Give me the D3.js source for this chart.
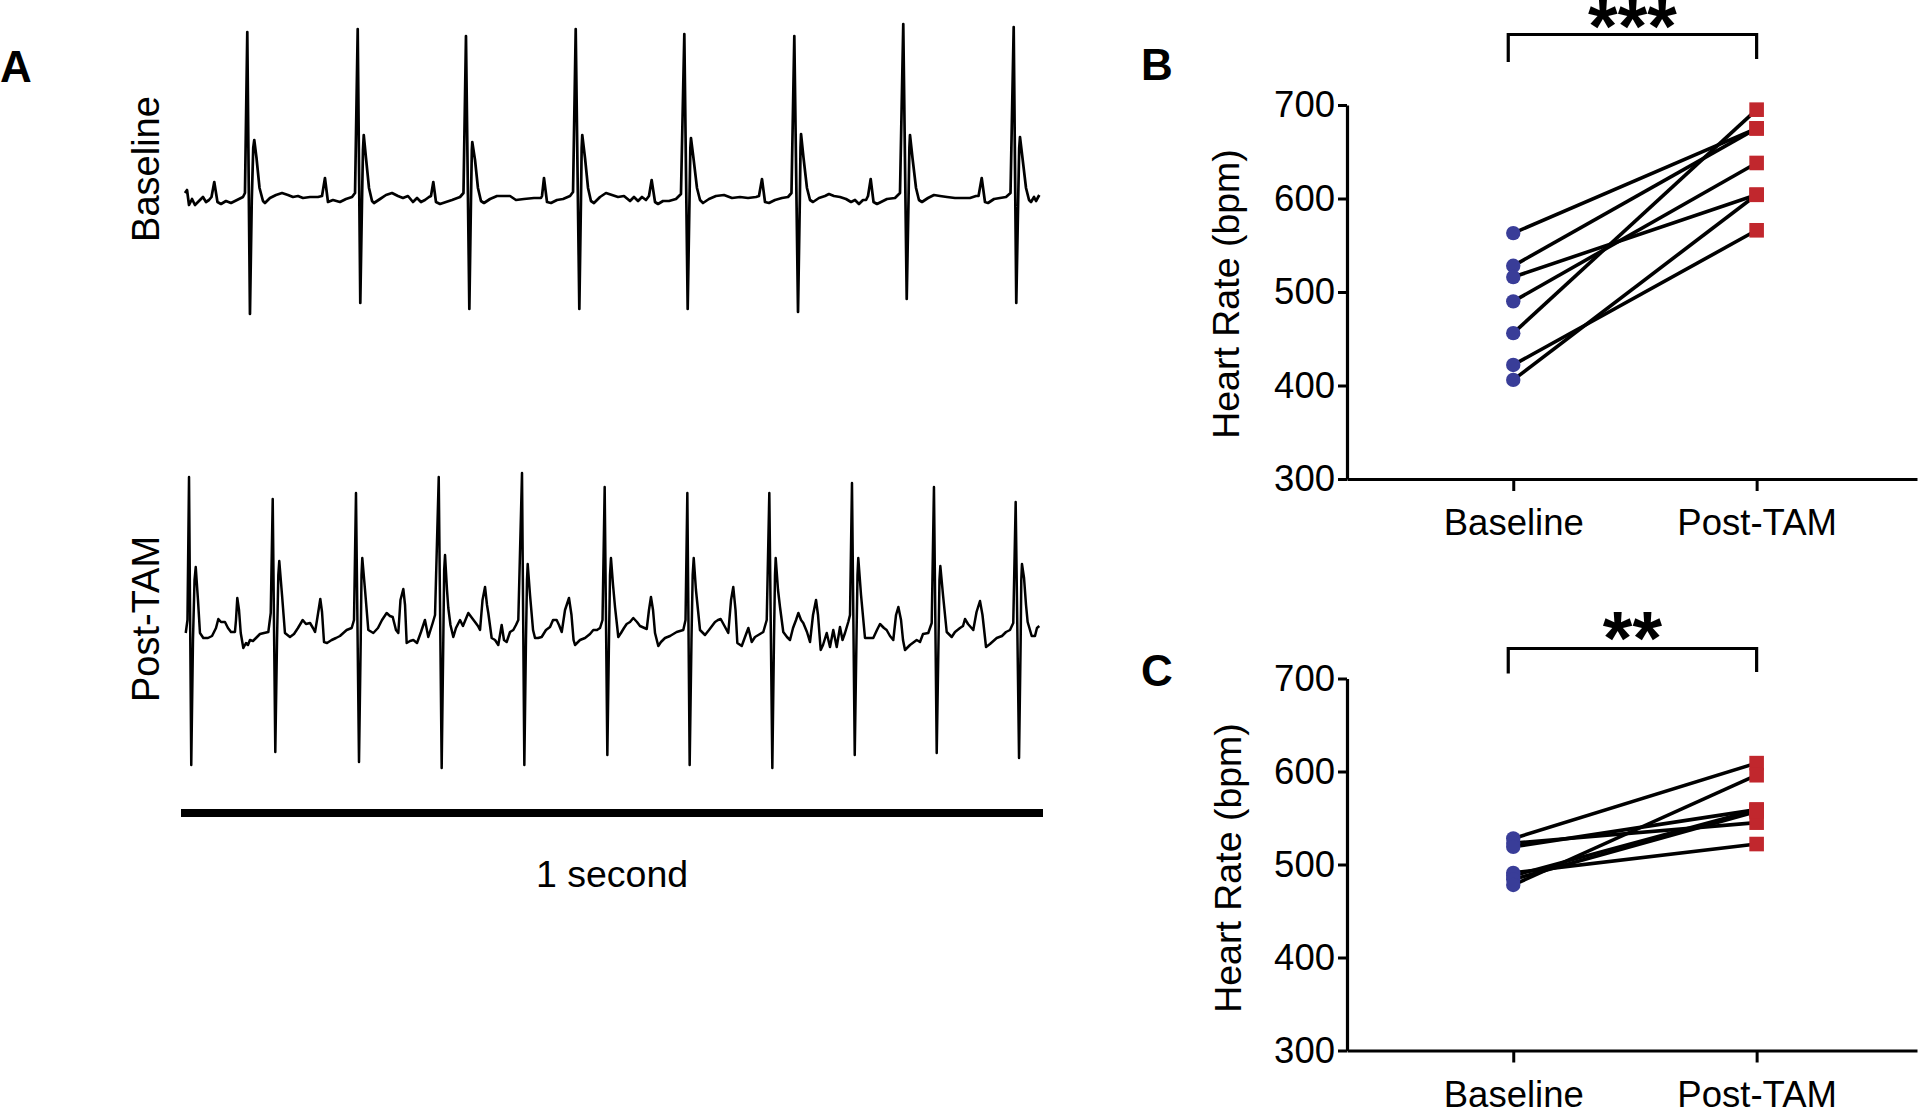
<!DOCTYPE html>
<html><head><meta charset="utf-8">
<script src="https://cdn.jsdelivr.net/npm/d3@7"></script>
<style>
body{margin:0;background:#fff;}
text{font-family:"Liberation Sans",Arial,Helvetica,sans-serif;fill:#000;}
</style>
</head><body>
<svg id="chart" width="1920" height="1111"></svg>
<script>
// ---------- DATA ----------
// ECG traces: [time (ms), voltage (mV)]
const baselineTrace = [[4.6,0.05],[7,0.08],[9.3,-0.07],[12.8,-0.01],[16.2,-0.07],[22,-0.02],[25.5,0.01],[29,-0.04],[32.5,-0.02],
[35.4,0.01],[38.6,0.16],[42.3,-0.04],[46.4,-0.06],[52.2,-0.03],[58,-0.05],[65,-0.02],[71.9,0.01],
[74.2,0.05],[76.9,1.66],[80,-1.16],[82.1,-0.02],[83.8,0.5],[85,0.58],[87.6,0.4],[91.1,0.1],[95.1,-0.03],[97.4,-0.05],
[103.2,0],[110.2,0.03],[117.2,0.05],[124.1,0.03],[129.9,0.01],[135.7,0.02],[141.5,0],[149.7,0.01],[158.9,0.01],
[163.6,0.02],[167,0.2],[170.5,-0.04],[176.3,-0.02],[184.4,-0.04],[191.4,-0.01],[198.4,0.01],
[201.9,0.05],[205,1.69],[208,-1.05],[210,-0.02],[211.1,0.48],[212,0.63],[214.6,0.4],[218.1,0.1],[221.6,-0.03],[223.9,-0.05],
[230.9,-0.01],[237.8,0.03],[244.8,0.05],[251.7,0.02],[257.5,0],[263.3,0.02],[269.1,-0.04],[273.8,0],[278.4,-0.04],[283,-0.02],[287.7,0.01],
[290,0.02],[292.7,0.16],[295.8,-0.04],[300.5,-0.06],[307.4,-0.04],[314.4,-0.02],[323.7,0.01],
[327.7,0.05],[330.6,1.62],[334.5,-1.11],[336.4,-0.02],[337.4,0.48],[337.9,0.56],[341.1,0.38],[344.5,0.1],[348,-0.03],[351.5,-0.05],
[358.5,-0.01],[366.6,0.02],[373.5,0.02],[381.7,0.02],[388.6,-0.02],[397.9,-0.01],[409.5,0],[417.6,0],
[418.8,0.02],[421.1,0.2],[424.6,-0.04],[429.2,-0.05],[436.2,-0.02],[443.2,-0.01],[451.3,0.02],
[454.8,0.06],[457.9,1.69],[462.1,-1.11],[464,-0.02],[464.8,0.5],[465.5,0.63],[468.7,0.4],[472.2,0.1],[475.6,-0.03],[479.1,-0.05],
[486.1,0.01],[493,0.05],[500,0.03],[507,0.01],[513.9,0.02],[520.9,-0.03],[525.5,0.01],[530.2,-0.03],[534.8,0.01],[539.4,-0.02],
[542.9,0.02],[546,0.18],[549.9,-0.04],[553.4,-0.06],[559.2,-0.03],[566.1,-0.03],[574.2,-0.01],
[580,0.04],[583.9,1.64],[587.8,-1.11],[589.9,-0.02],[590.9,0.5],[591.6,0.6],[594.5,0.4],[598.6,0.1],[602.1,-0.02],[605.6,-0.05],
[612.5,-0.01],[620.6,0.02],[629.9,0.03],[639.2,0],[648.5,0.01],[657.8,0],[667.1,0.01],
[670.5,0.02],[674,0.19],[677.5,-0.04],[682.1,-0.05],[689.1,-0.02],[697.2,0],[704.2,0.01],
[708.2,0.05],[711.5,1.62],[715.8,-1.14],[717.9,-0.02],[718.7,0.5],[719.3,0.64],[722.2,0.4],[726.2,0.1],[729.7,-0.02],[733.2,-0.04],
[740.1,0],[747.1,0.02],[751.7,0.04],[757.5,0.02],[764.5,0.01],[771.5,-0.01],[777.3,-0.04],[781.9,-0.02],[786.5,-0.06],[791.2,-0.02],[794.7,-0.02],
[797,0.02],[800.1,0.19],[803.4,-0.04],[807.4,-0.06],[812.1,-0.04],[819,-0.01],[828.3,0],
[834.1,0.05],[837.9,1.74],[841.9,-1.01],[844,-0.02],[845,0.5],[845.7,0.63],[848.6,0.4],[852.7,0.1],[856.1,-0.02],[859.6,-0.04],
[866.6,0],[873.5,0.03],[880.5,0.02],[888.6,0.01],[897.9,0],[907.2,0],[915.3,0],[922.3,0.02],
[925.2,0.02],[928.9,0.2],[932.7,-0.04],[936.2,-0.05],[943.2,-0.01],[950.1,0],[957.1,0.01],
[962.3,0.05],[966,1.71],[969,-1.05],[971.2,-0.02],[972.4,0.5],[973.3,0.61],[976.2,0.4],[980.3,0.1],[983.8,-0.02],[986.1,-0.04],
[989.6,0.01],[991.9,-0.03],[995.7,0.03]];

const postTamTrace = [[5.5,0.02],[7.5,0.15],[9.3,1.58],[11.9,-1.3],[13.9,-0.05],[15.7,0.55],[17.1,0.68],[19.7,0.35],[22,0.02],[25.9,-0.03],
[31.3,-0.03],[36,-0.01],[40.6,0.07],[43.3,0.16],[46.4,0.13],[51,0.13],[54.5,0.07],[58,0.03],[62.6,0.03],
[63.8,0.15],[65.3,0.37],[67.3,0.25],[69.3,0.02],[72.3,-0.13],[75.4,-0.08],[77.7,-0.1],[80,-0.05],[83.5,-0.06],[87,-0.03],[91.6,0.01],[96.3,0.02],[101.3,0.03],
[104.1,0.22],[106.4,1.36],[109.4,-1.17],[111.4,-0.05],[112.9,0.6],[114,0.74],[117.2,0.4],[120.6,0.02],[126.4,-0.02],
[131.1,0.01],[135.7,0.07],[141.2,0.15],[145,0.11],[149.7,0.12],[153.1,0.07],[155.5,0.03],
[157.8,0.15],[161.6,0.36],[163.6,0.23],[165.9,-0.07],[169.4,-0.08],[174.8,-0.05],[179.8,-0.03],[184.4,-0.01],[192.2,0.05],[198,0.07],
[200.7,0.15],[203,1.42],[206.5,-1.27],[208.5,-0.05],[209.4,0.6],[210.3,0.77],[213.5,0.45],[217.3,0.05],[223.1,0.02],
[228.5,0.07],[233.2,0.15],[238.6,0.22],[242.4,0.19],[245.6,0.18],[249.4,0.05],[252.1,0.02],
[254.6,0.35],[257.9,0.46],[259.9,0.3],[261.8,-0.08],[265.7,-0.06],[269.5,-0.05],[273.8,-0.08],[278.4,0.03],[283,0.15],[286.9,-0.02],[292,0.12],[294.7,0.2],
[299,1.58],[302.4,-1.33],[304.3,-0.05],[305.3,0.65],[306.3,0.8],[308.6,0.45],[310.1,0.27],[312.6,0.1],[315.9,-0.02],
[319,0.07],[323.7,0.15],[327.1,0.09],[333.3,0.22],[337.6,0.17],[341.1,0.13],[344.5,0.09],[346.9,0.05],
[349.8,0.35],[352.7,0.48],[355,0.3],[356.5,0.22],[360.4,-0.03],[364.3,-0.05],[368.1,-0.1],[372,0.1],[374.7,-0.05],[377.8,-0.07],[381.7,0.03],[385.5,0.05],[388.6,0.1],[391.3,0.15],
[395.6,1.62],[398.3,-1.3],[400.2,-0.05],[401.4,0.55],[402.2,0.71],[404.9,0.4],[408.4,0.05],[410.7,-0.03],
[414.2,-0.03],[418.4,-0.02],[423.4,0.05],[428.1,0.08],[431.6,0.15],[435.8,0.15],[438.5,0.1],[441.7,0.03],
[445.5,0.25],[450.1,0.37],[453,0.2],[455.4,-0.05],[457.1,-0.1],[462.9,-0.05],[468.7,-0.03],[474.5,0.01],[478.3,0.05],[482.6,0.05],[486.1,0.07],
[489,0.15],[491.5,1.48],[494.6,-1.2],[496.5,-0.05],[497.7,0.6],[498.8,0.77],[501.2,0.5],[503.5,0.28],[505.8,0.1],[507.3,-0.02],
[510.4,0.02],[513.9,0.07],[517,0.11],[520.9,0.13],[524.7,0.17],[529,0.13],[532.5,0.09],[540.3,0.06],
[542.9,0.25],[545.2,0.38],[547.6,0.25],[549.9,0.02],[553.7,-0.11],[556.8,-0.07],[561.5,-0.03],[567.3,-0.01],[575,0.03],[582.7,0.05],
[585.3,0.15],[587.4,1.42],[590.1,-1.3],[592.2,-0.05],[593.6,0.6],[594.8,0.77],[597.4,0.45],[602.1,0.05],[607.9,0],
[612.5,0.05],[619.5,0.13],[623,0.15],[626.1,0.16],[629.9,0.1],[634.9,0.02],
[638.1,0.35],[640.7,0.48],[643.3,0.25],[645.4,-0.08],[650.5,-0.11],[654.3,-0.02],[658.2,0.07],[662.1,-0.07],[665.9,-0.02],[671.7,0.01],[675.5,0.03],
[679.5,0.15],[682.5,1.42],[686,-1.33],[687.9,-0.05],[689.1,0.6],[689.9,0.77],[692.6,0.45],[694.9,0.28],[698.7,0.03],
[703,-0.02],[706.5,-0.05],[710,0.07],[713.5,0.15],[716.2,0.22],[719.3,0.15],[721.9,0.12],[726.2,0.03],[729.7,-0.07],
[733.2,0.2],[736.7,0.35],[739,0.2],[742.1,-0.15],[744.8,-0.1],[749.1,0.02],[752.9,-0.12],[756.7,0.05],[760.7,-0.12],[764.5,0.08],[767.4,-0.05],[770.3,0.02],[774.1,0.13],
[776.1,0.2],[778.4,1.52],[781.6,-1.2],[783.6,-0.05],[784.8,0.6],[785.7,0.77],[788.9,0.4],[793.5,-0.03],
[799.3,-0.03],[803.1,-0.03],[807.4,0.05],[810.9,0.11],[815.5,0.07],[818.6,0.05],[822.5,-0.01],[826.3,-0.05],
[829.5,0.2],[832.2,0.28],[835.3,0.15],[837.6,-0.05],[839.9,-0.15],[845.7,-0.1],[853.5,-0.05],[857.3,-0.07],[860.8,0.01],[866.9,0.02],
[870.9,0.12],[873.5,1.48],[876.7,-1.18],[878.8,-0.05],[879.9,0.55],[880.9,0.69],[884,0.4],[888.3,0.03],
[894.1,-0.02],[897.9,0.03],[903.7,0.07],[907.2,0.09],[909.5,0.16],[913,0.11],[919.1,0.05],
[922.9,0.23],[926.9,0.34],[929.8,0.2],[933.9,-0.12],[938.5,-0.09],[946.3,-0.03],[952.4,-0.01],[957.1,0.03],[961.7,0.05],
[965.5,0.12],[968.3,1.33],[972.2,-1.23],[974.1,-0.05],[974.8,0.55],[975.6,0.71],[978,0.57],[980.3,0.3],[982.2,0.13],[986.9,-0.01],
[990.7,-0.01],[993,0.07],[995.7,0.09]];

const scaleBarMs = [0, 1000];
const scaleBarLabel = "1 second";
const traceLabels = ["Baseline", "Post-TAM"];

// Paired heart-rate data (bpm)
const groups = ["Baseline", "Post-TAM"];
const hrTicks = [300, 400, 500, 600, 700];
const panelBBaseline = [563, 528, 516, 490, 456, 422, 406];
const panelBPost     = [675, 675, 604, 638, 695, 566, 604];
const panelCBaseline = [528, 523, 519, 491, 488, 484, 478];
const panelCPost     = [609, 545, 559, 522, 559, 557, 596];
const sigB = "***";
const sigC = "**";
const yTitle = "Heart Rate (bpm)";

// ---------- DRAW ----------
const svg = d3.select("#chart");
const BLUE = "#393d98", RED = "#c1272d";

// Panel A
svg.append("text").attr("x", 0).attr("y", 82).attr("font-size", 44).attr("font-weight", "bold").text("A");

const xT = d3.scaleLinear().domain([0, 1000]).range([181, 1043]);
const yBase = d3.scaleLinear().domain([-1.5, 2]).range([348, -2]);
const yPost = d3.scaleLinear().domain([-1.5, 2]).range([785, 435]);

const lineB = d3.line().x(d => xT(d[0])).y(d => yBase(d[1]));
const lineP = d3.line().x(d => xT(d[0])).y(d => yPost(d[1]));

svg.append("path").datum(baselineTrace).attr("d", lineB)
  .attr("fill", "none").attr("stroke", "#000").attr("stroke-width", 2.7).attr("stroke-linejoin", "round");
svg.append("path").datum(postTamTrace).attr("d", lineP)
  .attr("fill", "none").attr("stroke", "#000").attr("stroke-width", 2.5).attr("stroke-linejoin", "round");

svg.append("text").attr("transform", "translate(159,169) rotate(-90)")
  .attr("text-anchor", "middle").attr("font-size", 38).text(traceLabels[0]);
svg.append("text").attr("transform", "translate(159,619) rotate(-90)")
  .attr("text-anchor", "middle").attr("font-size", 38).text(traceLabels[1]);

svg.append("line").attr("x1", xT(scaleBarMs[0])).attr("x2", xT(scaleBarMs[1]))
  .attr("y1", 813).attr("y2", 813).attr("stroke", "#000").attr("stroke-width", 8);
svg.append("text").attr("x", xT((scaleBarMs[0] + scaleBarMs[1]) / 2)).attr("y", 887)
  .attr("text-anchor", "middle").attr("font-size", 37.5).text(scaleBarLabel);

// Paired panels
function pairedPanel(opt) {
  const g = svg.append("g");
  const y = d3.scaleLinear().domain([300, 700]).range([opt.y300, opt.y700]);
  const x = d3.scalePoint().domain(groups).range([1347, 1917]).padding(0.671).align(0.509);

  const yAxis = g.append("g").attr("transform", "translate(1347,0)")
    .call(d3.axisLeft(y).tickValues(hrTicks).tickSize(9).tickSizeOuter(0).tickPadding(3).tickFormat(d3.format("d")));
  const xAxis = g.append("g").attr("transform", `translate(0,${opt.y300})`)
    .call(d3.axisBottom(x).tickSize(12).tickSizeOuter(0).tickPadding(opt.xPad));
  [yAxis, xAxis].forEach(a => {
    a.attr("font-family", null).attr("font-size", null);
    a.select(".domain").attr("stroke", "#000").attr("stroke-width", 3.2);
    a.selectAll(".tick line").attr("stroke", "#000").attr("stroke-width", 3);
    a.selectAll(".tick text").attr("fill", "#000").attr("font-size", 36.5)
      .style("font-family", '"Liberation Sans", Arial, Helvetica, sans-serif');
  });

  // y title
  g.append("text").attr("transform", `translate(${opt.titleX},${opt.titleY}) rotate(-90)`)
    .attr("text-anchor", "middle").attr("font-size", 37.5).text(yTitle);

  // paired lines
  const pairs = opt.base.map((b, i) => ({ b, p: opt.post[i] }));
  g.selectAll("line.pair").data(pairs).enter().append("line").attr("class", "pair")
    .attr("x1", x(groups[0])).attr("y1", d => y(d.b))
    .attr("x2", x(groups[1])).attr("y2", d => y(d.p))
    .attr("stroke", "#000").attr("stroke-width", 3.6);
  g.selectAll("circle.b").data(opt.base).enter().append("circle").attr("class", "b")
    .attr("cx", x(groups[0])).attr("cy", d => y(d)).attr("r", 7.2).attr("fill", BLUE);
  g.selectAll("rect.p").data(opt.post).enter().append("rect").attr("class", "p")
    .attr("x", x(groups[1]) - 7.3).attr("y", d => y(d) - 7.3).attr("width", 14.6).attr("height", 14.6)
    .attr("fill", RED);

  // significance bracket
  const x0 = x(groups[0]) - 5, x1 = x(groups[1]);
  g.append("path")
    .attr("d", `M${x0},${opt.brLeg0}V${opt.brY}H${x1}V${opt.brLeg1}`)
    .attr("fill", "none").attr("stroke", "#000").attr("stroke-width", 3.2);
  g.append("text").attr("x", (x0 + x1) / 2).attr("y", opt.starY)
    .attr("text-anchor", "middle").attr("font-size", 76).attr("font-weight", "bold").text(opt.sig);

  svg.append("text").attr("x", 1141).attr("y", opt.labelY).attr("font-size", 44)
    .attr("font-weight", "bold").text(opt.label);
}

pairedPanel({ y300: 479, y700: 105, xPad: 18, titleX: 1239, titleY: 294,
  base: panelBBaseline, post: panelBPost, brY: 34.5, brLeg0: 62, brLeg1: 59, starY: 52, sig: sigB,
  label: "B", labelY: 80 });
pairedPanel({ y300: 1050.5, y700: 678.5, xPad: 19, titleX: 1241, titleY: 868,
  base: panelCBaseline, post: panelCPost, brY: 648.5, brLeg0: 673.5, brLeg1: 672, starY: 664, sig: sigC,
  label: "C", labelY: 686 });
</script>
</body></html>
